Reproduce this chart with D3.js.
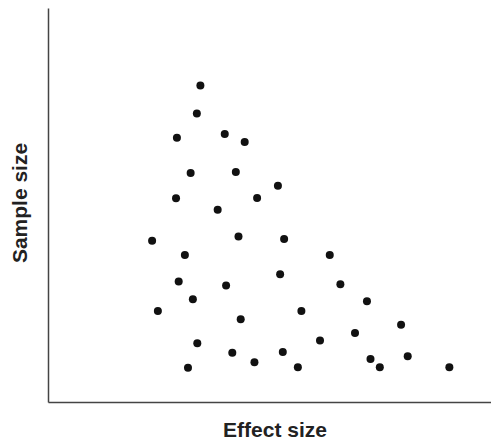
<!DOCTYPE html>
<html>
<head>
<meta charset="utf-8">
<script src="https://cdn.jsdelivr.net/npm/d3@7/dist/d3.min.js"></script>
<style>
  html, body { margin: 0; padding: 0; background: #fff; }
  svg { display: block; }
</style>
</head>
<body>
<svg id="chart" width="491" height="441"></svg>
<script>
// Effect size (arbitrary units, 0–10) and sample size (arbitrary units, 0–100)
const effectSize = [
  3.44, 3.36, 2.91, 3.99, 4.44, 3.22, 4.24, 2.89, 3.83, 5.19,
  4.72, 2.35, 4.30, 3.09, 2.95, 4.02, 3.27, 2.48, 4.35, 3.37,
  4.16, 3.16, 5.33, 6.36, 5.24, 6.60, 7.20, 5.72, 7.97, 6.93,
  6.14, 5.30, 4.66, 5.64, 7.28, 7.49, 8.12, 9.06
];
const sampleSize = [
  80.3, 73.2, 67.1, 68.0, 66.0, 58.1, 58.4, 51.7, 48.8, 54.9,
  51.8, 40.9, 42.0, 37.3, 30.6, 29.6, 26.1, 23.1, 21.0, 14.9,
  12.5, 8.7, 41.4, 37.3, 32.4, 29.9, 25.6, 23.1, 19.6, 17.5,
  15.6, 12.7, 10.1, 8.8, 10.9, 8.8, 11.6, 8.8
];
const xLabel = "Effect size";
const yLabel = "Sample size";

const svg = d3.select("#chart");
const x = d3.scaleLinear().domain([0, 10]).range([48, 491]);
const y = d3.scaleLinear().domain([0, 100]).range([402, 8]);

const axisColor = "#444";

svg.append("g")
  .attr("transform", "translate(0,402)")
  .call(d3.axisBottom(x).ticks(0).tickSizeOuter(0))
  .call(g => g.select(".domain").attr("stroke", axisColor).attr("stroke-width", 1.5));

svg.append("g")
  .attr("transform", "translate(48,0)")
  .call(d3.axisLeft(y).ticks(0).tickSizeOuter(0))
  .call(g => g.select(".domain").attr("stroke", axisColor).attr("stroke-width", 1.5));

const data = effectSize.map((e, i) => ({ e, s: sampleSize[i] }));

svg.append("g")
  .selectAll("circle")
  .data(data)
  .join("circle")
  .attr("cx", d => x(d.e))
  .attr("cy", d => y(d.s))
  .attr("r", 4)
  .attr("fill", "#111");

svg.append("text")
  .attr("x", 275)
  .attr("y", 437)
  .attr("text-anchor", "middle")
  .attr("font-family", "'Liberation Sans', Arial, Helvetica, sans-serif")
  .attr("font-weight", "bold")
  .attr("font-size", 21)
  .attr("fill", "#222")
  .text(xLabel);

svg.append("text")
  .attr("transform", "translate(27,203) rotate(-90)")
  .attr("text-anchor", "middle")
  .attr("font-family", "'Liberation Sans', Arial, Helvetica, sans-serif")
  .attr("font-weight", "bold")
  .attr("font-size", 21)
  .attr("fill", "#222")
  .text(yLabel);
</script>
</body>
</html>
